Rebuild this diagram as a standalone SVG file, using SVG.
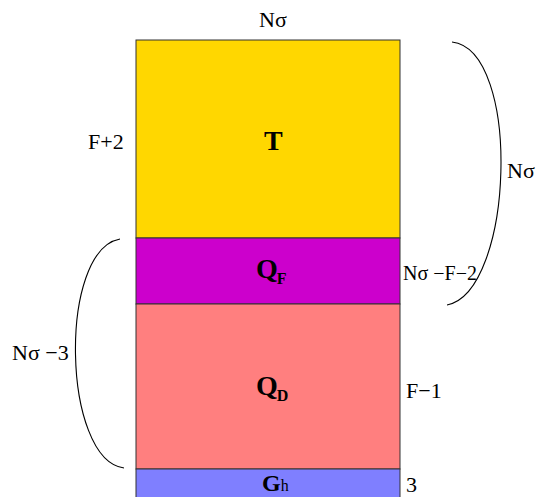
<svg xmlns="http://www.w3.org/2000/svg" width="539" height="497" viewBox="0 0 539 497">
<style>
text{font-family:"Liberation Serif","Times New Roman",serif;fill:#000}
.lbl{font-size:22px}
.sm{font-size:20px}
.big{font-size:28px;font-weight:bold}
.sub{font-size:16px;font-weight:bold}
.box{stroke:#333;stroke-width:1}
.br{fill:none;stroke:#000;stroke-width:1.1}
</style>
<rect width="539" height="497" fill="#fff"/>
<g id="T"><rect class="box" x="136" y="40" width="264" height="198" fill="#FFD700"/><text class="big" x="264" y="150">T</text></g>
<g id="QF"><rect class="box" x="136" y="238" width="264" height="66" fill="#CC00CC"/><text x="256" y="278"><tspan class="big">Q</tspan><tspan class="sub" dx="-1" dy="6">F</tspan></text></g>
<g id="QD"><rect class="box" x="136" y="304" width="264" height="165" fill="#FF7F7F"/><text x="256" y="395"><tspan class="big">Q</tspan><tspan class="sub" dx="-1" dy="6">D</tspan></text></g>
<g id="Gh"><rect class="box" x="136" y="469" width="264" height="40" fill="#7F7FFF"/><text x="262" y="491"><tspan font-size="24" font-weight="bold">G</tspan><tspan font-size="16">h</tspan></text></g>
<g id="connectors">
<path class="br" d="M452,42 C522,50 514,292 447,305"/>
<path class="br" d="M120,239 C58,250 62,460 124,468"/>
</g>
<g id="labels">
<text class="lbl" x="259" y="27">Nσ</text>
<text class="lbl" x="88" y="149">F+2</text>
<text class="lbl" x="507" y="178">Nσ</text>
<text class="sm" x="403" y="280">Nσ −F−2</text>
<text class="lbl" x="12" y="360">Nσ −3</text>
<text class="lbl" x="406" y="398">F−1</text>
<text class="lbl" x="406" y="492">3</text>
</g>
</svg>
